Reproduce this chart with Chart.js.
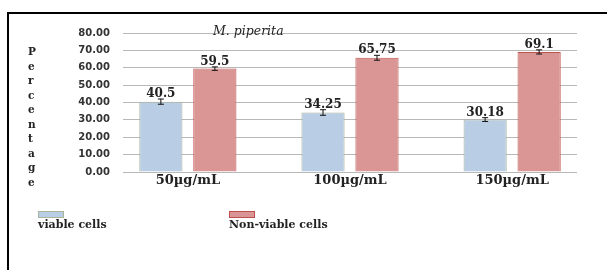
<!DOCTYPE html>
<html>
<head>
<meta charset="utf-8">
<script src="https://cdn.jsdelivr.net/npm/chart.js@4"></script>
<style>
  body { margin: 0; background: #fff; overflow: hidden; }
  #wrap { position: relative; width: 607px; height: 270px; overflow: hidden; }
  #frame { position: absolute; left: 7px; top: 12px; width: 700px; height: 400px;
           border-left: 2px solid #000; border-top: 2px solid #000; }
  canvas { position: absolute; left: 0; top: 0; }
  #title { position: absolute; left: 213px; top: 23px; font: italic 12.5px "DejaVu Serif", serif; color: #222; }
  #ytitle { position: absolute; left: 28px; top: 44px; font: bold 10.5px "DejaVu Serif", serif;
            line-height: 14.5px; color: #222; }
  .leg { position: absolute; top: 211px; }
  .leg .sw { width: 24px; height: 5px; }
  .leg .tx { font: bold 11px "DejaVu Serif", serif; color: #222; margin-top: 0px; white-space: nowrap; }
</style>
</head>
<body>
<div id="wrap">
  <div id="frame"></div>
  <canvas id="chart" width="607" height="270"></canvas>
  <div id="title">M. piperita</div>
  <div id="ytitle"></div>
</div>
<script>
const CATEGORIES = ["50µg/mL", "100µg/mL", "150µg/mL"];
const VIABLE = [40.5, 34.25, 30.18];
const NON_VIABLE = [59.5, 65.75, 69.1];
const VIABLE_ERR = [1.5, 1.6, 1.1];
const NON_VIABLE_ERR = [1.0, 1.4, 1.2];
const Y_TICKS = [0, 10, 20, 30, 40, 50, 60, 70, 80];
const SERIES_NAMES = ["viable cells", "Non-viable cells"];
const BAR_COLORS = ["#b9cde5", "#d99694"];
const BAR_BORDERS = ["#a9b49a", "#c0504d"];
const Y_TITLE = "Percentage";

document.getElementById('ytitle').innerHTML = Y_TITLE.split('').join('<br>');

// legend: swatch above text, like the original
const LEGEND_X = [38, 229];
SERIES_NAMES.forEach((name, i) => {
  const d = document.createElement('div');
  d.className = 'leg';
  d.style.left = LEGEND_X[i] + 'px';
  d.innerHTML = `<div class="sw" style="background:${BAR_COLORS[i]};border:1px solid ${BAR_BORDERS[i]}"></div><div class="tx">${name}</div>`;
  document.getElementById('wrap').appendChild(d);
});

const errorBarsAndLabels = {
  id: 'errorBarsAndLabels',
  afterDatasetsDraw(chart) {
    const ctx = chart.ctx;
    const yScale = chart.scales.y;
    const errs = [VIABLE_ERR, NON_VIABLE_ERR];
    ctx.save();
    chart.data.datasets.forEach((ds, di) => {
      const meta = chart.getDatasetMeta(di);
      meta.data.forEach((bar, i) => {
        const v = ds.data[i].y;
        const e = errs[di][i];
        const top = yScale.getPixelForValue(v + e);
        const bot = yScale.getPixelForValue(v - e);
        ctx.strokeStyle = '#111';
        ctx.lineWidth = 1;
        ctx.beginPath();
        ctx.moveTo(bar.x, top); ctx.lineTo(bar.x, bot);
        ctx.moveTo(bar.x - 3, top); ctx.lineTo(bar.x + 3, top);
        ctx.moveTo(bar.x - 3, bot); ctx.lineTo(bar.x + 3, bot);
        ctx.stroke();
        ctx.fillStyle = '#222';
        ctx.font = 'bold 12px "DejaVu Serif", serif';
        ctx.textAlign = 'center';
        ctx.textBaseline = 'bottom';
        ctx.fillText(String(v), bar.x, top + 1);
      });
    });
    ctx.restore();
  }
};

new Chart(document.getElementById('chart').getContext('2d'), {
  type: 'bar',
  data: {
    datasets: [
      {
        label: SERIES_NAMES[0],
        data: VIABLE.map((v, i) => ({ x: i, y: v })),
        backgroundColor: BAR_COLORS[0],
        borderColor: BAR_BORDERS[0],
        borderWidth: 1,
        categoryPercentage: 0.666,
        barPercentage: 0.8
      },
      {
        label: SERIES_NAMES[1],
        data: NON_VIABLE.map((v, i) => ({ x: i, y: v })),
        backgroundColor: BAR_COLORS[1],
        borderColor: BAR_BORDERS[1],
        borderWidth: 1,
        categoryPercentage: 0.666,
        barPercentage: 0.8
      }
    ]
  },
  options: {
    responsive: false,
    animation: false,
    layout: { padding: { left: 0, right: 30, top: 33, bottom: 0 } },
    plugins: {
      legend: { display: false },
      tooltip: { enabled: false }
    },
    scales: {
      x: {
        type: 'linear',
        offset: false,
        min: -0.4,
        max: 2.4,
        afterBuildTicks: scale => { scale.ticks = CATEGORIES.map((_, i) => ({ value: i })); },
        afterFit: scale => { scale.height = 98; },
        grid: { display: false },
        border: { display: false },
        ticks: {
          padding: -7,
          color: '#222',
          font: { family: '"DejaVu Serif", serif', size: 13, weight: 'bold' },
          callback: v => CATEGORIES[v]
        }
      },
      y: {
        min: 0,
        max: 80,
        afterBuildTicks: scale => { scale.ticks = Y_TICKS.map(v => ({ value: v })); },
        afterFit: scale => { scale.width = 123; },
        grid: { color: '#b8b8b8', drawTicks: false },
        border: { display: false },
        ticks: {
          padding: 13,
          color: '#333',
          font: { family: '"DejaVu Sans", sans-serif', size: 10, weight: 'bold' },
          callback: v => v.toFixed(2)
        }
      }
    }
  },
  plugins: [errorBarsAndLabels]
});
</script>
</body>
</html>
